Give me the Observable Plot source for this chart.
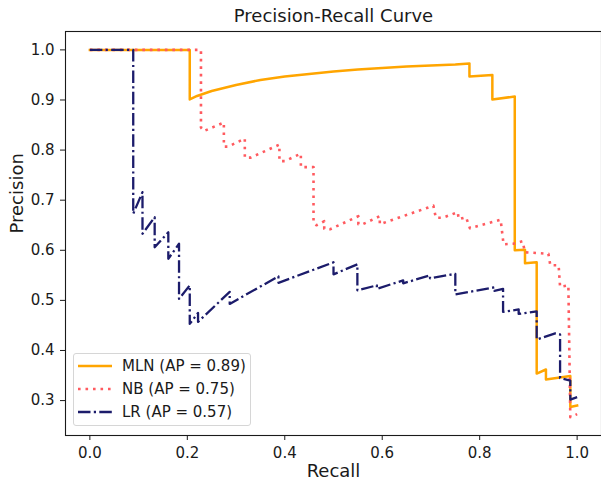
<!DOCTYPE html>
<html>
<head>
<meta charset="utf-8">
<script src="https://cdn.jsdelivr.net/npm/d3@7"></script>
<script src="https://cdn.jsdelivr.net/npm/@observablehq/plot@0.6"></script>
<style>
  html, body { margin: 0; padding: 0; background: #fff; }
  #wrap { position: relative; width: 601px; height: 484px; font-family: "DejaVu Sans", sans-serif; }
  #legend { position: absolute; left: 73px; top: 353px; width: 178px; height: 73px;
            border: 1px solid #d6d6d6; border-radius: 3px; background: rgba(255,255,255,0.8); box-sizing: border-box; }
</style>
</head>
<body>
<div id="wrap"><div id="legend"></div></div>
<script>
// ---- data ----
const titleText = "Precision-Recall Curve";
const xLabel = "Recall";
const yLabel = "Precision";
const xTicks = [0.0, 0.2, 0.4, 0.6, 0.8, 1.0];
const yTicks = [0.3, 0.4, 0.5, 0.6, 0.7, 0.8, 0.9, 1.0];

const seriesNames = ["MLN (AP = 0.89)", "NB (AP = 0.75)", "LR (AP = 0.57)"];
const seriesColors = ["#ffa500", "#ff5a5f", "#1c1c6b"];

const mlnRecall = [0, 0.205, 0.205, 0.22, 0.25, 0.30, 0.35, 0.40, 0.45, 0.50, 0.55, 0.60, 0.65, 0.70, 0.75, 0.779,
  0.779, 0.826, 0.826, 0.872, 0.872, 0.893, 0.893, 0.917, 0.917, 0.936, 0.936, 0.986, 0.986, 1.0];
const mlnPrecision = [1, 1, 0.901, 0.908, 0.918, 0.930, 0.940, 0.947, 0.952, 0.957, 0.961, 0.964, 0.967, 0.969, 0.971, 0.973,
  0.947, 0.950, 0.901, 0.907, 0.600, 0.601, 0.574, 0.576, 0.354, 0.362, 0.342, 0.349, 0.287, 0.290];

const nbRecall = [0, 0.228, 0.228, 0.234, 0.275, 0.275, 0.284, 0.318, 0.318, 0.330, 0.389, 0.389, 0.400, 0.433, 0.433,
  0.459, 0.459, 0.465, 0.481, 0.481, 0.493, 0.551, 0.551, 0.560, 0.595, 0.595, 0.705, 0.710, 0.724, 0.755, 0.757,
  0.772, 0.780, 0.843, 0.849, 0.869, 0.888, 0.893, 0.941, 0.945, 0.962, 0.965, 0.982, 0.986, 1.0];
const nbPrecision = [1, 1, 0.845, 0.838, 0.855, 0.807, 0.807, 0.823, 0.785, 0.785, 0.811, 0.778, 0.778, 0.793, 0.766,
  0.766, 0.655, 0.650, 0.658, 0.643, 0.642, 0.668, 0.652, 0.652, 0.668, 0.652, 0.689, 0.665, 0.665, 0.676, 0.662,
  0.666, 0.644, 0.661, 0.612, 0.613, 0.618, 0.596, 0.593, 0.570, 0.570, 0.527, 0.530, 0.267, 0.273];

const lrRecall = [0, 0.089, 0.089, 0.108, 0.108, 0.133, 0.133, 0.161, 0.161, 0.183, 0.183, 0.205, 0.205, 0.222, 0.222,
  0.287, 0.287, 0.387, 0.387, 0.500, 0.500, 0.549, 0.549, 0.589, 0.589, 0.643, 0.643, 0.698, 0.698, 0.750, 0.750,
  0.830, 0.830, 0.848, 0.848, 0.880, 0.880, 0.917, 0.917, 0.955, 0.965, 0.965, 0.986, 0.986, 1.0];
const lrPrecision = [1, 1, 0.673, 0.716, 0.633, 0.666, 0.606, 0.636, 0.583, 0.613, 0.503, 0.530, 0.453, 0.475, 0.457,
  0.517, 0.493, 0.548, 0.535, 0.576, 0.552, 0.572, 0.520, 0.530, 0.523, 0.540, 0.534, 0.550, 0.544, 0.553, 0.512,
  0.526, 0.519, 0.523, 0.477, 0.482, 0.473, 0.478, 0.422, 0.434, 0.432, 0.345, 0.340, 0.302, 0.307];

// ---- build tables ----
const toRows = (r, p) => r.map((v, i) => ({recall: v, precision: p[i]}));
const mln = toRows(mlnRecall, mlnPrecision);
const nb = toRows(nbRecall, nbPrecision);
const lr = toRows(lrRecall, lrPrecision);

const lineStyles = [
  {strokeWidth: 2.5, strokeDasharray: null, strokeLinecap: "square"},
  {strokeWidth: 2.6, strokeDasharray: "2.6,4.9", strokeLinecap: "butt"},
  {strokeWidth: 2.3, strokeDasharray: "12.5,3.3,2.2,3.3", strokeLinecap: "butt"}
];

const font = "DejaVu Sans";
const ink = "#1a1a1a";

const chart = Plot.plot({
  width: 601,
  height: 484,
  marginLeft: 65,
  marginRight: 0,
  marginTop: 31,
  marginBottom: 49,
  style: {fontFamily: font, background: "#fff", color: ink, overflow: "visible"},
  x: {domain: [-0.05, 1.05]},
  y: {domain: [0.2303, 1.0367]},
  marks: [
    Plot.line(mln, {x: "recall", y: "precision", stroke: seriesColors[0], ...lineStyles[0], strokeLinejoin: "round"}),
    Plot.line(nb, {x: "recall", y: "precision", stroke: seriesColors[1], ...lineStyles[1], strokeLinejoin: "round"}),
    Plot.line(lr, {x: "recall", y: "precision", stroke: seriesColors[2], ...lineStyles[2], strokeLinejoin: "round"}),
    Plot.frame({stroke: ink, strokeWidth: 1.1}),
    Plot.axisX({ticks: xTicks, tickFormat: d3.format(".1f"), tickSize: 5, tickPadding: 7, fontSize: 15, label: null, stroke: ink, fill: ink}),
    Plot.axisY({ticks: yTicks, tickFormat: d3.format(".1f"), tickSize: 5, tickPadding: 6, fontSize: 15, label: null, stroke: ink, fill: ink}),
    Plot.text([titleText], {frameAnchor: "top", lineAnchor: "middle", dy: -15, fontSize: 18, fill: ink}),
    Plot.text([xLabel], {frameAnchor: "bottom", lineAnchor: "middle", dy: 36, fontSize: 18, fill: ink}),
    Plot.text([yLabel], {frameAnchor: "left", lineAnchor: "middle", rotate: -90, dx: -48, fontSize: 18, fill: ink})
  ]
});
document.getElementById("wrap").prepend(chart);

// ---- legend ----
const legend = d3.select("#legend").append("svg").attr("width", 176).attr("height", 71);
seriesNames.forEach((name, i) => {
  const g = legend.append("g").attr("transform", `translate(0, ${12 + i * 23})`);
  g.append("line").attr("x1", 4).attr("x2", 38).attr("y1", 0).attr("y2", 0)
    .attr("stroke", seriesColors[i]).attr("stroke-width", lineStyles[i].strokeWidth)
    .attr("stroke-dasharray", lineStyles[i].strokeDasharray)
    .attr("stroke-linecap", "butt");
  g.append("text").attr("x", 48).attr("y", 5.4).attr("font-size", 15).attr("font-family", font)
    .attr("fill", ink).text(name);
});
</script>
</body>
</html>
